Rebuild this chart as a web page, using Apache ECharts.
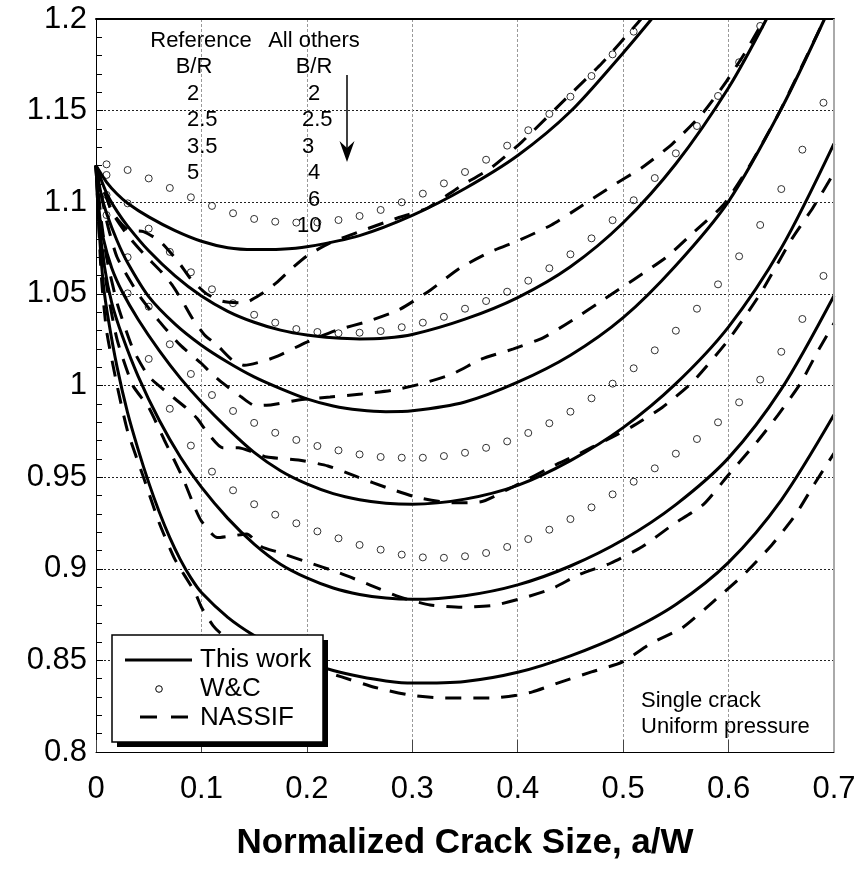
<!DOCTYPE html>
<html>
<head>
<meta charset="utf-8">
<script src="https://cdn.jsdelivr.net/npm/echarts@6/dist/echarts.min.js"></script>
<style>
html, body { margin: 0; padding: 0; background: #fff; }
#chart { width: 865px; height: 871px; }
</style>
</head>
<body>
<div id="chart"></div>
<script>
// Normalized stress intensity factor vs. normalized crack size a/W
// "This work" curves for B/R = 2, 2.5, 3, 4, 6, 10
const work2 = [[0,1.12],[0.01,1.111],[0.02,1.1045],[0.03,1.0995],[0.05,1.092],[0.075,1.0845],[0.1,1.0787],[0.125,1.0752],[0.15,1.0742],[0.175,1.0744],[0.2,1.0757],[0.25,1.0818],[0.3,1.0928],[0.35,1.1075],[0.4,1.1255],[0.45,1.1495],[0.5,1.1815],[0.527,1.2]];
const work25 = [[0,1.12],[0.01,1.105],[0.02,1.095],[0.03,1.087],[0.05,1.0735],[0.075,1.0598],[0.1,1.0488],[0.125,1.0405],[0.15,1.0345],[0.175,1.0302],[0.2,1.0275],[0.225,1.026],[0.25,1.0254],[0.275,1.0259],[0.3,1.0278],[0.35,1.0362],[0.4,1.048],[0.45,1.0648],[0.5,1.0888],[0.55,1.121],[0.6,1.1625],[0.636,1.2]];
const work3 = [[0,1.12],[0.005,1.104],[0.01,1.094],[0.02,1.079],[0.03,1.067],[0.05,1.0485],[0.075,1.0335],[0.1,1.022],[0.125,1.0127],[0.15,1.0047],[0.175,0.9983],[0.2,0.9927],[0.225,0.9888],[0.25,0.9866],[0.275,0.9857],[0.3,0.9862],[0.35,0.991],[0.4,1.0018],[0.45,1.0165],[0.5,1.037],[0.55,1.0655],[0.6,1.1005],[0.65,1.151],[0.691,1.2]];
const work4 = [[0,1.12],[0.003,1.095],[0.007,1.08],[0.015,1.064],[0.025,1.051],[0.04,1.036],[0.06,1.019],[0.08,1.004],[0.1,0.991],[0.125,0.9765],[0.15,0.9635],[0.175,0.9535],[0.2,0.9463],[0.225,0.941],[0.25,0.9377],[0.275,0.9358],[0.3,0.9352],[0.35,0.938],[0.4,0.9455],[0.45,0.959],[0.5,0.977],[0.55,1.001],[0.6,1.032],[0.65,1.075],[0.7,1.132]];
const work6 = [[0,1.12],[0.003,1.09],[0.008,1.065],[0.015,1.045],[0.025,1.027],[0.04,1.005],[0.06,0.981],[0.08,0.961],[0.1,0.9445],[0.125,0.9275],[0.15,0.9135],[0.175,0.9025],[0.2,0.895],[0.225,0.8895],[0.25,0.886],[0.275,0.884],[0.3,0.8833],[0.35,0.8853],[0.4,0.8912],[0.45,0.9015],[0.5,0.9158],[0.55,0.935],[0.6,0.9605],[0.65,0.998],[0.7,1.049]];
const work10 = [[0,1.12],[0.003,1.085],[0.007,1.055],[0.012,1.035],[0.02,1.01],[0.03,0.985],[0.04,0.965],[0.05,0.947],[0.06,0.931],[0.07,0.917],[0.08,0.905],[0.09,0.895],[0.1,0.887],[0.125,0.8735],[0.15,0.8635],[0.175,0.8555],[0.2,0.849],[0.225,0.8445],[0.25,0.8412],[0.275,0.8388],[0.3,0.8376],[0.35,0.8385],[0.4,0.8435],[0.45,0.8525],[0.5,0.8645],[0.55,0.8805],[0.6,0.9035],[0.65,0.9375],[0.7,0.984]];

// NASSIF curves for the same B/R values
const nassif2 = [[0,1.12],[0.015,1.095],[0.03,1.085],[0.045,1.084],[0.06,1.079],[0.07,1.073],[0.08,1.066],[0.09,1.058],[0.105,1.05],[0.12,1.046],[0.14,1.045],[0.157,1.05],[0.171,1.056],[0.186,1.064],[0.2,1.0707],[0.222,1.0778],[0.25,1.084],[0.286,1.0914],[0.315,1.097],[0.345,1.1085],[0.374,1.1185],[0.404,1.133],[0.45,1.159],[0.48,1.176],[0.514,1.198],[0.517,1.2]];
const nassif25 = [[0,1.12],[0.015,1.095],[0.03,1.082],[0.045,1.072],[0.062,1.062],[0.072,1.055],[0.082,1.046],[0.091,1.037],[0.103,1.0276],[0.115,1.022],[0.129,1.014],[0.141,1.011],[0.157,1.013],[0.171,1.0157],[0.2,1.0237],[0.229,1.0303],[0.258,1.035],[0.287,1.0412],[0.317,1.052],[0.345,1.064],[0.374,1.0729],[0.402,1.0794],[0.432,1.0876],[0.459,1.0974],[0.488,1.1083],[0.518,1.119],[0.547,1.132],[0.576,1.149],[0.598,1.166],[0.616,1.182],[0.634,1.2]];
const nassif3 = [[0,1.12],[0.01,1.09],[0.02,1.07],[0.04,1.05],[0.06,1.035],[0.08,1.022],[0.1,1.012],[0.108,1.0074],[0.12,1.0014],[0.138,0.9937],[0.151,0.989],[0.167,0.9895],[0.192,0.9921],[0.222,0.9937],[0.252,0.9954],[0.282,0.9975],[0.309,1.001],[0.338,1.0063],[0.366,1.0145],[0.396,1.02],[0.424,1.026],[0.452,1.0357],[0.481,1.0467],[0.54,1.0696],[0.566,1.0832],[0.595,1.0985],[0.62,1.12],[0.649,1.15],[0.691,1.2]];
const nassif4 = [[0,1.12],[0.005,1.09],[0.01,1.07],[0.02,1.045],[0.035,1.02],[0.05,1.005],[0.07,0.995],[0.085,0.988],[0.096,0.982],[0.106,0.974],[0.12,0.966],[0.135,0.966],[0.149,0.9637],[0.162,0.961],[0.192,0.9593],[0.22,0.9561],[0.248,0.9501],[0.277,0.944],[0.307,0.9386],[0.338,0.936],[0.364,0.9364],[0.393,0.944],[0.437,0.957],[0.452,0.961],[0.49,0.972],[0.508,0.9774],[0.537,0.988],[0.566,1.002],[0.6,1.025],[0.63,1.05],[0.66,1.08],[0.68,1.097],[0.7,1.116]];
const nassif6 = [[0,1.12],[0.005,1.08],[0.01,1.055],[0.02,1.025],[0.035,1.0],[0.05,0.988],[0.065,0.97],[0.082,0.95],[0.094,0.933],[0.1,0.926],[0.115,0.917],[0.13,0.918],[0.143,0.919],[0.157,0.912],[0.173,0.909],[0.2,0.9037],[0.231,0.8977],[0.26,0.8911],[0.288,0.8846],[0.317,0.8802],[0.347,0.879],[0.377,0.88],[0.405,0.884],[0.432,0.889],[0.459,0.897],[0.488,0.903],[0.518,0.912],[0.547,0.924],[0.576,0.935],[0.601,0.952],[0.628,0.97],[0.647,0.984],[0.668,1.001],[0.684,1.018],[0.7,1.034]];
const nassif10 = [[0,1.12],[0.005,1.06],[0.01,1.03],[0.02,1.0],[0.03,0.975],[0.045,0.95],[0.06,0.925],[0.075,0.905],[0.094,0.887],[0.1,0.879],[0.111,0.869],[0.12,0.864],[0.15,0.856],[0.18,0.848],[0.217,0.8437],[0.233,0.841],[0.263,0.8355],[0.298,0.831],[0.328,0.8295],[0.363,0.8295],[0.377,0.8295],[0.399,0.831],[0.414,0.8328],[0.44,0.838],[0.47,0.8437],[0.499,0.849],[0.527,0.8595],[0.556,0.8677],[0.585,0.8818],[0.614,0.8966],[0.641,0.913],[0.663,0.929],[0.682,0.9468],[0.7,0.963]];

// W&C reference points (B/R = 2, 2.5, 3.5, 5)
const wcX = [0.01,0.03,0.05,0.07,0.09,0.11,0.13,0.15,0.17,0.19,0.21,0.23,0.25,0.27,0.29,0.31,0.33,0.35,0.37,0.39,0.41,0.43,0.45,0.47,0.49,0.51,0.53,0.55,0.57,0.59,0.61,0.63,0.65,0.67,0.69];
const wc2 = [1.1207,1.1176,1.113,1.1078,1.1027,1.098,1.094,1.0909,1.0894,1.0889,1.089,1.0903,1.0925,1.0958,1.1,1.1047,1.1103,1.1165,1.1232,1.1309,1.1393,1.1482,1.1576,1.1689,1.1807,1.1931];
const wc25 = [1.1149,1.0994,1.0856,1.0729,1.0618,1.0525,1.0449,1.0386,1.0343,1.0308,1.0292,1.0285,1.0288,1.0297,1.0318,1.0343,1.0375,1.0419,1.0461,1.0512,1.0572,1.064,1.0716,1.0803,1.0902,1.1011,1.1132,1.1267,1.1416,1.158,1.1764,1.1962];
const wc35 = [1.104,1.07,1.043,1.0225,1.0063,0.9948,0.9861,0.9796,0.9742,0.9703,0.967,0.9646,0.9624,0.961,0.9606,0.9606,0.9615,0.9633,0.966,0.9695,0.9741,0.9794,0.9857,0.993,1.001,1.0094,1.0192,1.0299,1.0419,1.0552,1.0705,1.0876,1.1072,1.1287,1.1543];
const wc5 = [1.093,1.0503,1.0145,0.9873,0.9672,0.953,0.9428,0.9352,0.9295,0.9248,0.9204,0.9166,0.913,0.9104,0.9077,0.9062,0.906,0.9068,0.9086,0.9119,0.9162,0.9213,0.9271,0.9335,0.9406,0.9475,0.9548,0.9628,0.9708,0.9799,0.9908,1.0032,1.0184,1.0363,1.0598];

// Annotation text
const refHeader = 'Reference';
const othersHeader = 'All others';
const refRatios = ['2', '2.5', '3.5', '5'];
const otherRatios = ['2', '2.5', '3', '4', '6', '10'];
const legendNames = ['This work', 'W&C', 'NASSIF'];

const FONT = '"Liberation Sans", Arial, Helvetica, sans-serif';
const chart = echarts.init(document.getElementById('chart'), null, { renderer: 'canvas' });

function curve(name, data, dashed) {
  return {
    name: name, type: 'line', data: data,
    showSymbol: false, smooth: dashed ? 0.2 : 0.3,
    clip: true, silent: true, z: 3,
    lineStyle: { color: '#000', width: 3, type: dashed ? [16, 12] : 'solid', cap: 'butt' }
  };
}
function points(name, ys) {
  return {
    name: name, type: 'scatter', data: ys.map((y, i) => [wcX[i], y]),
    symbol: 'circle', symbolSize: 7, clip: true, silent: true, z: 4,
    itemStyle: { color: 'rgba(0,0,0,0)', borderColor: '#000', borderWidth: 1 }
  };
}

const series = [
  curve('This work', work2), curve('This work', work25), curve('This work', work3),
  curve('This work', work4), curve('This work', work6), curve('This work', work10),
  curve('NASSIF', nassif2, true), curve('NASSIF', nassif25, true), curve('NASSIF', nassif3, true),
  curve('NASSIF', nassif4, true), curve('NASSIF', nassif6, true), curve('NASSIF', nassif10, true),
  points('W&C', wc2), points('W&C', wc25), points('W&C', wc35), points('W&C', wc5)
];

// text placed by the vertical middle of its glyphs
const txt = (x, y, s, size, align, z) => ({
  type: 'text', x: x, y: y, z: z || 20,
  style: { text: s, font: size + 'px ' + FONT, fill: '#000', align: align || 'left', verticalAlign: 'middle' }
});
const graphic = [];
graphic.push(txt(201, 40.5, refHeader, 22, 'center'));
graphic.push(txt(314, 40.5, othersHeader, 22, 'center'));
graphic.push(txt(194, 66.7, 'B/R', 22, 'center'));
graphic.push(txt(314, 66.7, 'B/R', 22, 'center'));
refRatios.forEach((s, i) => graphic.push(txt(187, 94 + i * 26.3, s, 22, 'left')));
const otherX = [308, 302, 302, 308, 308, 297];
otherRatios.forEach((s, i) => graphic.push(txt(otherX[i], 94 + i * 26.4, s, 22, 'left')));
// arrow pointing toward increasing B/R
graphic.push({ type: 'line', z: 20, shape: { x1: 347, y1: 75, x2: 347, y2: 150 }, style: { stroke: '#000', lineWidth: 1.5 } });
graphic.push({ type: 'polygon', z: 20, shape: { points: [[347, 162], [339.5, 141], [347, 148], [354.5, 141]] }, style: { fill: '#000' } });
// case description
graphic.push(txt(641, 700.5, 'Single crack', 22, 'left'));
graphic.push(txt(641, 727, 'Uniform pressure', 22, 'left'));
// legend box with drop shadow
graphic.push({ type: 'rect', z: 30, shape: { x: 117, y: 640, width: 211, height: 107 }, style: { fill: '#000' } });
graphic.push({ type: 'rect', z: 31, shape: { x: 112, y: 635, width: 211, height: 107 }, style: { fill: '#fff', stroke: '#000', lineWidth: 1.5 } });
graphic.push({ type: 'line', z: 32, shape: { x1: 125, y1: 660, x2: 192, y2: 660 }, style: { stroke: '#000', lineWidth: 3 } });
graphic.push({ type: 'circle', z: 32, shape: { cx: 159, cy: 689, r: 3.3 }, style: { fill: 'none', stroke: '#000', lineWidth: 1 } });
graphic.push({ type: 'line', z: 32, shape: { x1: 140, y1: 717, x2: 157, y2: 717 }, style: { stroke: '#000', lineWidth: 3 } });
graphic.push({ type: 'line', z: 32, shape: { x1: 171, y1: 717, x2: 188, y2: 717 }, style: { stroke: '#000', lineWidth: 3 } });
legendNames.forEach((s, i) => graphic.push(txt(200, [660, 688.5, 717.5][i], s, 26, 'left', 32)));
// right frame edge
graphic.push({ type: 'line', z: 10, shape: { x1: 834, y1: 19, x2: 834, y2: 752 }, style: { stroke: '#aaa', lineWidth: 2 } });

chart.setOption({
  animation: false,
  backgroundColor: '#fff',
  grid: { left: 96, right: 31, top: 19, bottom: 119, containLabel: false },
  xAxis: [{
    type: 'value', min: 0, max: 0.7, interval: 0.1,
    name: 'Normalized Crack Size, a/W', nameLocation: 'middle', nameGap: 74,
    nameTextStyle: { fontFamily: FONT, fontSize: 35, fontWeight: 'bold', color: '#000' },
    axisLine: { show: true, onZero: false, lineStyle: { color: '#000', width: 1 } },
    axisTick: { show: true, inside: true, length: 12, lineStyle: { color: '#444' } },
    axisLabel: { fontFamily: FONT, fontSize: 31, color: '#000', margin: 22 },
    splitLine: { show: true, lineStyle: { color: '#999', width: 1, type: [3, 2] } }
  }, {
    // top frame edge
    type: 'value', position: 'top', min: 0, max: 0.7,
    axisLine: { show: true, onZero: false, lineStyle: { color: '#000', width: 2 } },
    axisTick: { show: false }, axisLabel: { show: false }, splitLine: { show: false }
  }],
  yAxis: {
    type: 'value', min: 0.8, max: 1.2, interval: 0.05,
    axisLine: { show: true, onZero: false, lineStyle: { color: '#000', width: 1 } },
    axisTick: { show: true, inside: true, length: 7, lineStyle: { color: '#000' } },
    minorTick: { show: true, splitNumber: 5, length: 6, lineStyle: { color: '#000' } },
    axisLabel: { fontFamily: FONT, fontSize: 31, color: '#000', margin: 9 },
    splitLine: { show: true, lineStyle: { color: '#222', width: 1, type: [2, 2] } }
  },
  graphic: graphic,
  series: series
});
</script>
</body>
</html>
